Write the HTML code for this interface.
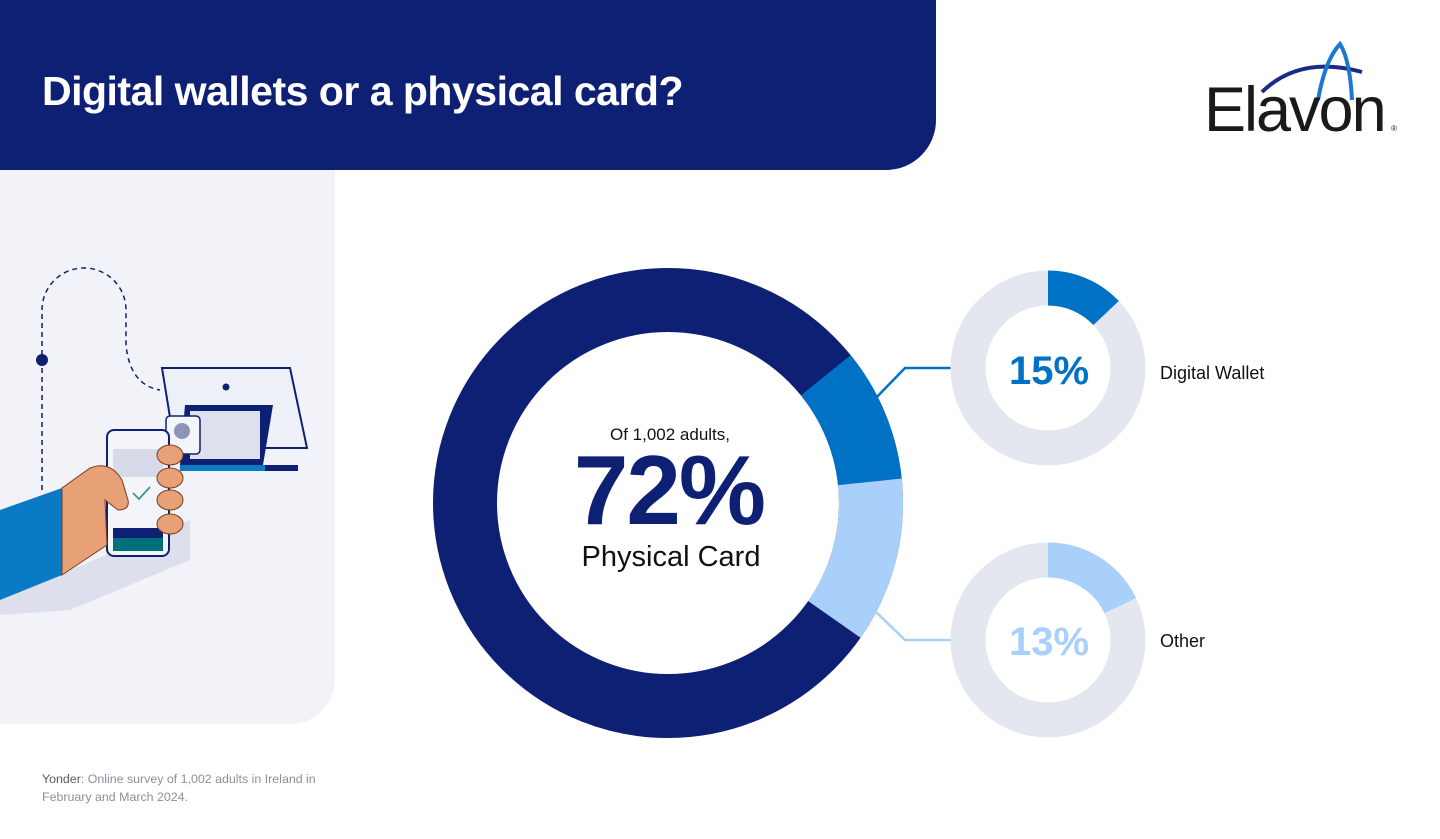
<!DOCTYPE html>
<html><head><meta charset="utf-8"><style>
body{margin:0;width:1440px;height:839px;background:#fff;position:relative;overflow:hidden;font-family:"Liberation Sans",Arial,sans-serif}
.hdr{position:absolute;left:0;top:0;width:936px;height:170px;background:#0e2073;border-bottom-right-radius:50px}
.hdr h1{position:absolute;left:42px;top:68px;margin:0;color:#fff;font-size:41px;font-weight:bold;letter-spacing:-0.5px}
.panel{position:absolute;left:0;top:170px;width:335px;height:554px;background:#f2f3f8;border-bottom-right-radius:45px}
.foot{position:absolute;left:42px;top:770px;font-size:12.4px;color:#8a8f9c;line-height:18px}
.foot b{color:#555a66;font-weight:normal}
</style></head><body>
<div class="hdr"><h1>Digital wallets or a physical card?</h1></div>
<div class="panel"></div>
<svg width="1440" height="839" style="position:absolute;left:0;top:0">
<g fill="none" stroke="#0e2073" stroke-width="1.5" stroke-dasharray="5,4">
<path d="M42 490 V310 A42 42 0 0 1 126 310 V345 Q130 385 160 390"/>
</g>
<circle cx="42" cy="360" r="6" fill="#0e2073"/>
<path d="M162 368 H290 L307 448 H175 Z" fill="#eef0f7" stroke="#0e2073" stroke-width="2"/>
<circle cx="226" cy="387" r="3.5" fill="#0e2073"/>
<path d="M185 405 H273 L263 465 H180 Z" fill="#0e2073"/>
<rect x="190" y="411" width="70" height="48" fill="#dde1ee"/>
<rect x="180" y="465" width="118" height="6" fill="#0e2073"/>
<rect x="180" y="465" width="85" height="6" fill="#0a7ac4"/>
<rect x="166" y="416" width="34" height="38" rx="4" fill="#f4f5fa" stroke="#0e2073" stroke-width="1.5"/>
<circle cx="182" cy="431" r="8" fill="#8d94b8"/>
<path d="M0 600 L70 570 L190 520 V560 L70 610 L0 615 Z" fill="#dde0ec"/>
<rect x="107" y="430" width="62" height="126" rx="7" fill="#f4f5fa" stroke="#0e2073" stroke-width="2"/>
<rect x="113" y="449" width="50" height="28" fill="#d7dbe9"/>
<rect x="113" y="528" width="50" height="12" fill="#0e2073"/>
<rect x="113" y="538" width="50" height="13" fill="#00717a"/>
<path d="M0 510 L62 488 V575 L0 600 Z" fill="#0a7ac4"/>
<path d="M62 488 L90 468 Q110 460 122 480 L128 500 Q130 510 118 510 L105 500 L107 545 L62 575 Z" fill="#e8a077" stroke="#7a3d20" stroke-width="1"/>
<g fill="#e8a077" stroke="#7a3d20" stroke-width="1"><ellipse cx="170" cy="455" rx="13" ry="10"/><ellipse cx="170" cy="478" rx="13" ry="10"/><ellipse cx="170" cy="500" rx="13" ry="10"/><ellipse cx="170" cy="524" rx="13" ry="10"/></g>
<path d="M133 493 L139 499 L150 487" fill="none" stroke="#2e9c8a" stroke-width="1.8"/>
<g transform="translate(668,503)" fill="none" stroke-width="64">
<circle r="203" stroke="#0e2073"/>
<path d="M157.8 -127.8 A203 203 0 0 1 201.9 -21.2" stroke="#0072c6"/>
<path d="M201.9 -21.2 A203 203 0 0 1 166.3 116.4" stroke="#a9d0fb"/>
</g>
<path d="M872 402 L905 368 H951" fill="none" stroke="#0072c6" stroke-width="2.5"/>
<path d="M876 612 L905 640 H951" fill="none" stroke="#a9d0fb" stroke-width="2.5"/>
<g fill="none" stroke-width="35">
<circle cx="1048" cy="368" r="80" stroke="#e4e7ef"/>
<circle cx="1048" cy="368" r="80" stroke="#0072c6" stroke-dasharray="65 600" transform="rotate(-90 1048 368)"/>
<circle cx="1048" cy="640" r="80" stroke="#e4e7ef"/>
<circle cx="1048" cy="640" r="80" stroke="#a9d0fb" stroke-dasharray="90 600" transform="rotate(-90 1048 640)"/>
</g>
<text x="1049" y="384" text-anchor="middle" font-size="40" font-weight="bold" fill="#0072c6" font-family="Liberation Sans">15%</text>
<text x="1049" y="655" text-anchor="middle" font-size="40" font-weight="bold" fill="#a9d0fb" font-family="Liberation Sans">13%</text>
<text x="1160" y="379" font-size="18" fill="#111" font-family="Liberation Sans">Digital Wallet</text>
<text x="1160" y="647" font-size="18" fill="#111" font-family="Liberation Sans">Other</text>
<text x="670" y="440" text-anchor="middle" font-size="17" fill="#111" font-family="Liberation Sans">Of 1,002 adults,</text>
<text x="669" y="524" text-anchor="middle" font-size="98" font-weight="bold" fill="#0e2073" font-family="Liberation Sans" letter-spacing="-2">72%</text>
<text x="671" y="566" text-anchor="middle" font-size="29" fill="#111" font-family="Liberation Sans">Physical Card</text>
<path d="M1262 92 Q1300 55 1362 72" fill="none" stroke="#1b2a88" stroke-width="4"/>
<path d="M1318 100 Q1325 60 1340 44 Q1350 60 1352 100" fill="none" stroke="#1a78d0" stroke-width="4"/>
<text x="1204" y="131" font-size="63" fill="#1a1a1a" font-family="Liberation Sans" letter-spacing="-2">Elavon</text>
<text x="1391" y="131" font-size="8" fill="#1a1a1a" font-family="Liberation Sans">®</text>
</svg>
<div class="foot"><b>Yonder</b>: Online survey of 1,002 adults in Ireland in<br>February and March 2024.</div>
</body></html>
